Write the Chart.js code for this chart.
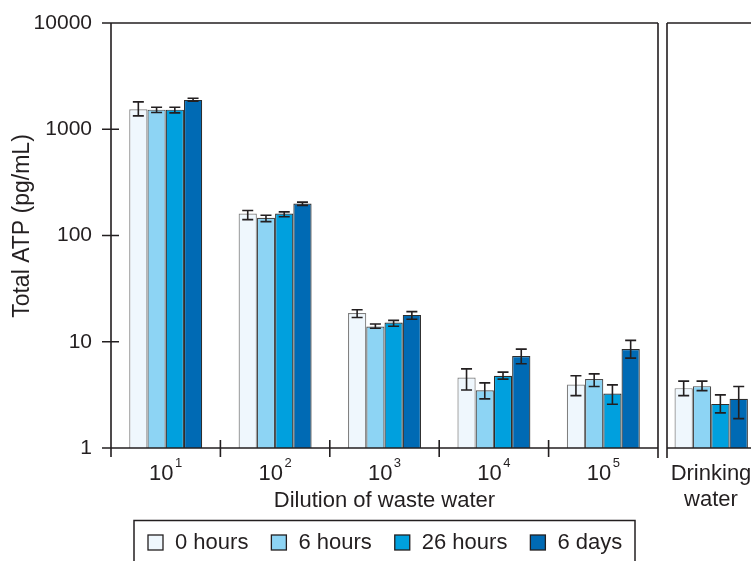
<!DOCTYPE html>
<html>
<head>
<meta charset="utf-8">
<script src="https://cdn.jsdelivr.net/npm/chart.js@4"></script>
<style>
  html, body { margin: 0; padding: 0; background: #fff; }
  #wrap { position: relative; width: 751px; height: 561px; overflow: hidden; }
  #wrap canvas { position: absolute; left: 0; top: 0; }
</style>
</head>
<body>
<div id="wrap">
  <canvas id="mainChart" width="751" height="561"></canvas>
  <canvas id="drinkChart" width="800" height="561"></canvas>
</div>
<script>
// dilution exponents (10^n) for the waste water groups, last group is drinking water
const dilutionExp = ['1', '2', '3', '4', '5'];
const drinkingLabel = ['Drinking', 'water'];
const seriesLabels = ['0 hours', '6 hours', '26 hours', '6 days'];
const seriesColors = ['#eff7fd', '#8dd4f4', '#00a0de', '#006ab4'];
const seriesBorders = ['#808080', '#4a4a4a', '#2e2e2e', '#2e2e2e'];
const yTicks = [1, 10, 100, 1000, 10000];

// Total ATP (pg/mL), 6 values each: 10^1..10^5 then drinking water
const hours0 = [1545, 161, 18.6, 4.6, 3.95, 3.66];
const hours0Lo = [1335, 141, 16.9, 3.52, 3.11, 3.11];
const hours0Hi = [1810, 172, 20.0, 5.56, 4.78, 4.26];

const hours6 = [1530, 147, 13.9, 3.5, 4.45, 3.82];
const hours6Lo = [1437, 135, 13.4, 2.9, 3.79, 3.47];
const hours6Hi = [1613, 155, 14.7, 4.1, 4.99, 4.26];

const hours26 = [1530, 161, 15.2, 4.78, 3.25, 2.60];
const hours26Lo = [1425, 150, 14.0, 4.45, 2.58, 2.14];
const hours26Hi = [1613, 167, 15.9, 5.18, 3.93, 3.16];

const days6 = [1890, 200, 17.9, 7.33, 8.53, 2.90];
const days6Lo = [1840, 192, 16.3, 6.20, 7.02, 1.89];
const days6Hi = [1960, 206, 19.2, 8.53, 10.3, 3.79];

const allValues = [hours0, hours6, hours26, days6];
const allLo = [hours0Lo, hours6Lo, hours26Lo, days6Lo];
const allHi = [hours0Hi, hours6Hi, hours26Hi, days6Hi];

const FONT = '"Liberation Sans", Arial, Helvetica, sans-serif';
const INK = '#231f20';

// build datasets for a slice of the groups
const makeDatasets = (from, to) => seriesLabels.map((label, i) => ({
  label: label,
  data: allValues[i].slice(from, to),
  lo: allLo[i].slice(from, to),
  hi: allHi[i].slice(from, to),
  backgroundColor: seriesColors[i],
  borderColor: seriesBorders[i],
  borderWidth: 1.2,
  borderSkipped: 'start'
}));

// error bars drawn from the y scale
const errorBars = {
  id: 'errorBars',
  afterDatasetsDraw(chart) {
    const ctx = chart.ctx;
    const yScale = chart.scales.y;
    ctx.save();
    ctx.strokeStyle = INK;
    ctx.lineWidth = 1.6;
    chart.data.datasets.forEach((ds, di) => {
      const meta = chart.getDatasetMeta(di);
      meta.data.forEach((bar, j) => {
        const yLo = yScale.getPixelForValue(ds.lo[j]);
        const yHi = yScale.getPixelForValue(ds.hi[j]);
        const cap = 5.5;
        ctx.beginPath();
        ctx.moveTo(bar.x, yLo); ctx.lineTo(bar.x, yHi);
        ctx.moveTo(bar.x - cap, yLo); ctx.lineTo(bar.x + cap, yLo);
        ctx.moveTo(bar.x - cap, yHi); ctx.lineTo(bar.x + cap, yHi);
        ctx.stroke();
      });
    });
    ctx.restore();
  }
};

// frame, ticks, labels and legend of the left panel
const mainDecor = {
  id: 'mainDecor',
  afterDraw(chart) {
    const ctx = chart.ctx;
    const area = chart.chartArea;
    const xScale = chart.scales.x;
    const yScale = chart.scales.y;
    ctx.save();
    ctx.strokeStyle = INK;
    ctx.lineWidth = 1.6;
    ctx.beginPath();
    // axes and box
    ctx.moveTo(area.left, area.top); ctx.lineTo(area.left, area.bottom);
    ctx.moveTo(area.left, area.top); ctx.lineTo(area.right, area.top);
    ctx.moveTo(area.right, area.top); ctx.lineTo(area.right, area.bottom + 10);
    ctx.moveTo(area.left, area.bottom); ctx.lineTo(area.right, area.bottom);
    // y ticks crossing the axis
    yTicks.forEach(v => {
      const y = yScale.getPixelForValue(v);
      ctx.moveTo(area.left - 9, y); ctx.lineTo(area.left + 8, y);
    });
    // x ticks at group boundaries
    const half = (xScale.getPixelForValue(1) - xScale.getPixelForValue(0)) / 2;
    dilutionExp.forEach((e, i) => {
      const x = xScale.getPixelForValue(i) - half;
      ctx.moveTo(x, area.bottom - 8); ctx.lineTo(x, area.bottom + 9);
    });
    ctx.stroke();

    ctx.fillStyle = INK;
    // x tick labels 10^n
    dilutionExp.forEach((e, i) => {
      const cx = xScale.getPixelForValue(i);
      ctx.font = '22px ' + FONT;
      const wBase = ctx.measureText('10').width;
      ctx.font = '13px ' + FONT;
      const wExp = ctx.measureText(e).width;
      const x0 = cx - (wBase + 1.5 + wExp) / 2;
      ctx.textAlign = 'left';
      ctx.textBaseline = 'alphabetic';
      ctx.font = '22px ' + FONT;
      ctx.fillText('10', x0, 480);
      ctx.font = '13px ' + FONT;
      ctx.fillText(e, x0 + wBase + 1.5, 467);
    });

    // axis titles
    ctx.font = '22px ' + FONT;
    ctx.textAlign = 'center';
    ctx.fillText('Dilution of waste water', (area.left + area.right) / 2, 507);
    ctx.fillText(drinkingLabel[0], 711, 480);
    ctx.fillText(drinkingLabel[1], 711, 506);

    ctx.save();
    ctx.translate(23, 226);
    ctx.rotate(-Math.PI / 2);
    ctx.font = '23px ' + FONT;
    ctx.textBaseline = 'middle';
    ctx.fillText('Total ATP (pg/mL)', 0, 0);
    ctx.restore();

    // legend
    ctx.lineWidth = 1.5;
    ctx.strokeRect(134, 520.5, 501, 60);
    ctx.font = '22px ' + FONT;
    ctx.textAlign = 'left';
    ctx.textBaseline = 'middle';
    let x = 148;
    chart.data.datasets.forEach(ds => {
      ctx.fillStyle = ds.backgroundColor;
      ctx.fillRect(x, 535, 15, 15);
      ctx.strokeStyle = INK;
      ctx.lineWidth = 1.3;
      ctx.strokeRect(x, 535, 15, 15);
      ctx.fillStyle = INK;
      ctx.fillText(ds.label, x + 27, 543);
      x += 27 + ctx.measureText(ds.label).width + 23;
    });
    ctx.restore();
  }
};

// frame of the drinking water panel
const drinkDecor = {
  id: 'drinkDecor',
  afterDraw(chart) {
    const ctx = chart.ctx;
    const area = chart.chartArea;
    ctx.save();
    ctx.strokeStyle = INK;
    ctx.lineWidth = 1.6;
    ctx.beginPath();
    ctx.moveTo(area.left, area.top); ctx.lineTo(area.left, area.bottom + 10);
    ctx.moveTo(area.left, area.top); ctx.lineTo(chart.width, area.top);
    ctx.moveTo(area.left, area.bottom); ctx.lineTo(chart.width, area.bottom);
    ctx.stroke();
    ctx.restore();
  }
};

const logAxis = (show) => ({
  type: 'logarithmic',
  min: 1,
  max: 10000,
  display: show,
  grid: { display: false, drawTicks: false },
  border: { display: false },
  afterBuildTicks: scale => { scale.ticks = yTicks.map(v => ({ value: v })); },
  ticks: {
    color: INK,
    font: { family: FONT, size: 21 },
    padding: 19,
    callback: v => String(v)
  },
  afterFit: scale => {
    scale.paddingTop = 0;
    scale.paddingBottom = 0;
    if (show) scale.width = 111;
  }
});

new Chart(document.getElementById('mainChart'), {
  type: 'bar',
  data: { labels: dilutionExp, datasets: makeDatasets(0, 5) },
  options: {
    responsive: false,
    animation: false,
    devicePixelRatio: 1,
    categoryPercentage: 0.667,
    barPercentage: 1,
    layout: { padding: { left: 0, top: 23, right: 93, bottom: 0 } },
    plugins: { legend: { display: false }, tooltip: { enabled: false } },
    scales: {
      x: {
        grid: { display: false, drawTicks: false },
        border: { display: false },
        ticks: { display: false },
        afterFit: scale => {
          scale.paddingLeft = 0;
          scale.paddingRight = 0;
          scale.height = 113;
        }
      },
      y: logAxis(true)
    }
  },
  plugins: [errorBars, mainDecor]
});

new Chart(document.getElementById('drinkChart'), {
  type: 'bar',
  data: { labels: ['Drinking water'], datasets: makeDatasets(5, 6) },
  options: {
    responsive: false,
    animation: false,
    devicePixelRatio: 1,
    categoryPercentage: 0.83,
    barPercentage: 1,
    layout: { padding: { left: 667, top: 23, right: 44.6, bottom: 113 } },
    plugins: { legend: { display: false }, tooltip: { enabled: false } },
    scales: {
      x: { display: false },
      y: logAxis(false)
    }
  },
  plugins: [errorBars, drinkDecor]
});
</script>
</body>
</html>
